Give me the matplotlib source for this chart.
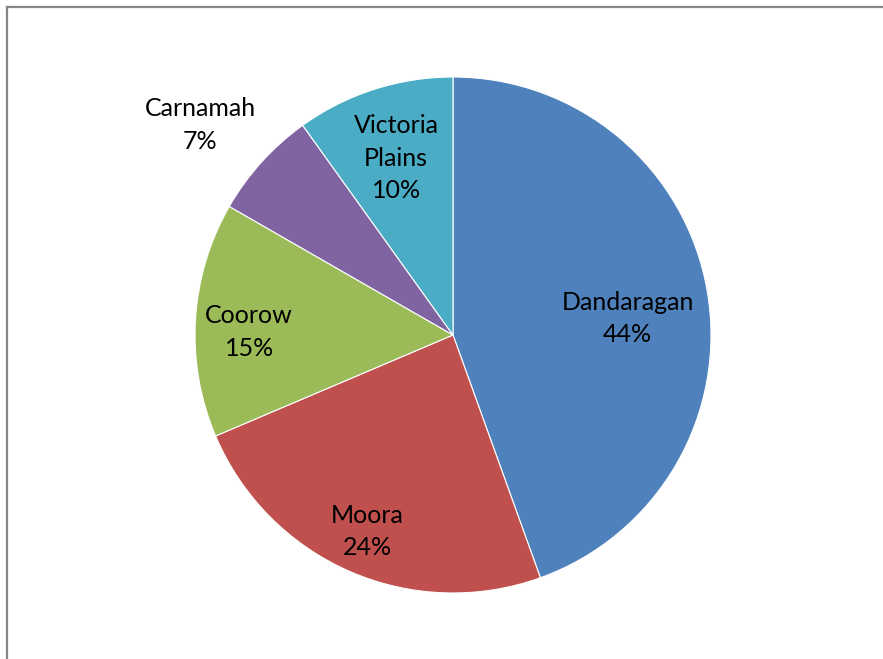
import numpy as np
import matplotlib
matplotlib.use('Agg')
import matplotlib.pyplot as plt
from matplotlib.lines import Line2D

plt.rcParams['font.family'] = ['Lato', 'DejaVu Sans']

# slice values (share of total), clockwise from 12 o'clock
names = ['Dandaragan', 'Moora', 'Coorow', 'Carnamah', 'Victoria\nPlains']
shares = [44.5, 24.1, 14.7, 6.8, 9.9]
pct_labels = ['44%', '24%', '15%', '7%', '10%']
colors = ['#4F81BD', '#C0504D', '#9BBB59', '#8064A2', '#4BACC6']
# label placement: distance from centre (fraction of radius), angle nudge (deg)
label_dist = [0.68, 0.83, 0.79, 1.275, 0.72]
label_nudge = [-4.5, 0, 2.6, 2.4, 0]

W, H = 883, 659
fig = plt.figure(figsize=(W / 100, H / 100), dpi=100)

cx, cy, r = 453, 335, 258
ax = fig.add_axes([(cx - r) / W, (H - cy - r) / H, 2 * r / W, 2 * r / H])

wedges, _ = ax.pie(shares, colors=colors, startangle=90, counterclock=False,
                   wedgeprops=dict(edgecolor='white', linewidth=0.8))
ax.set_xlim(-1, 1)
ax.set_ylim(-1, 1)
ax.set_aspect('equal')
ax.axis('off')

for w, name, pct, d, nud in zip(wedges, names, pct_labels, label_dist, label_nudge):
    mid = np.deg2rad((w.theta1 + w.theta2) / 2 + nud)
    ax.text(d * np.cos(mid), d * np.sin(mid), name + '\n' + pct,
            ha='center', va='center', fontsize=18, color='black',
            linespacing=1.5)

# chart frame (only left and top edges show)
fx, fy = 7 / W, 1 - 7 / H
fig.add_artist(Line2D([fx, fx], [0, fy], color='#868686', linewidth=1.6,
                      transform=fig.transFigure))
fig.add_artist(Line2D([fx, 1], [fy, fy], color='#868686', linewidth=1.6,
                      transform=fig.transFigure))

fig.savefig('out.png', dpi=100, facecolor='white')
